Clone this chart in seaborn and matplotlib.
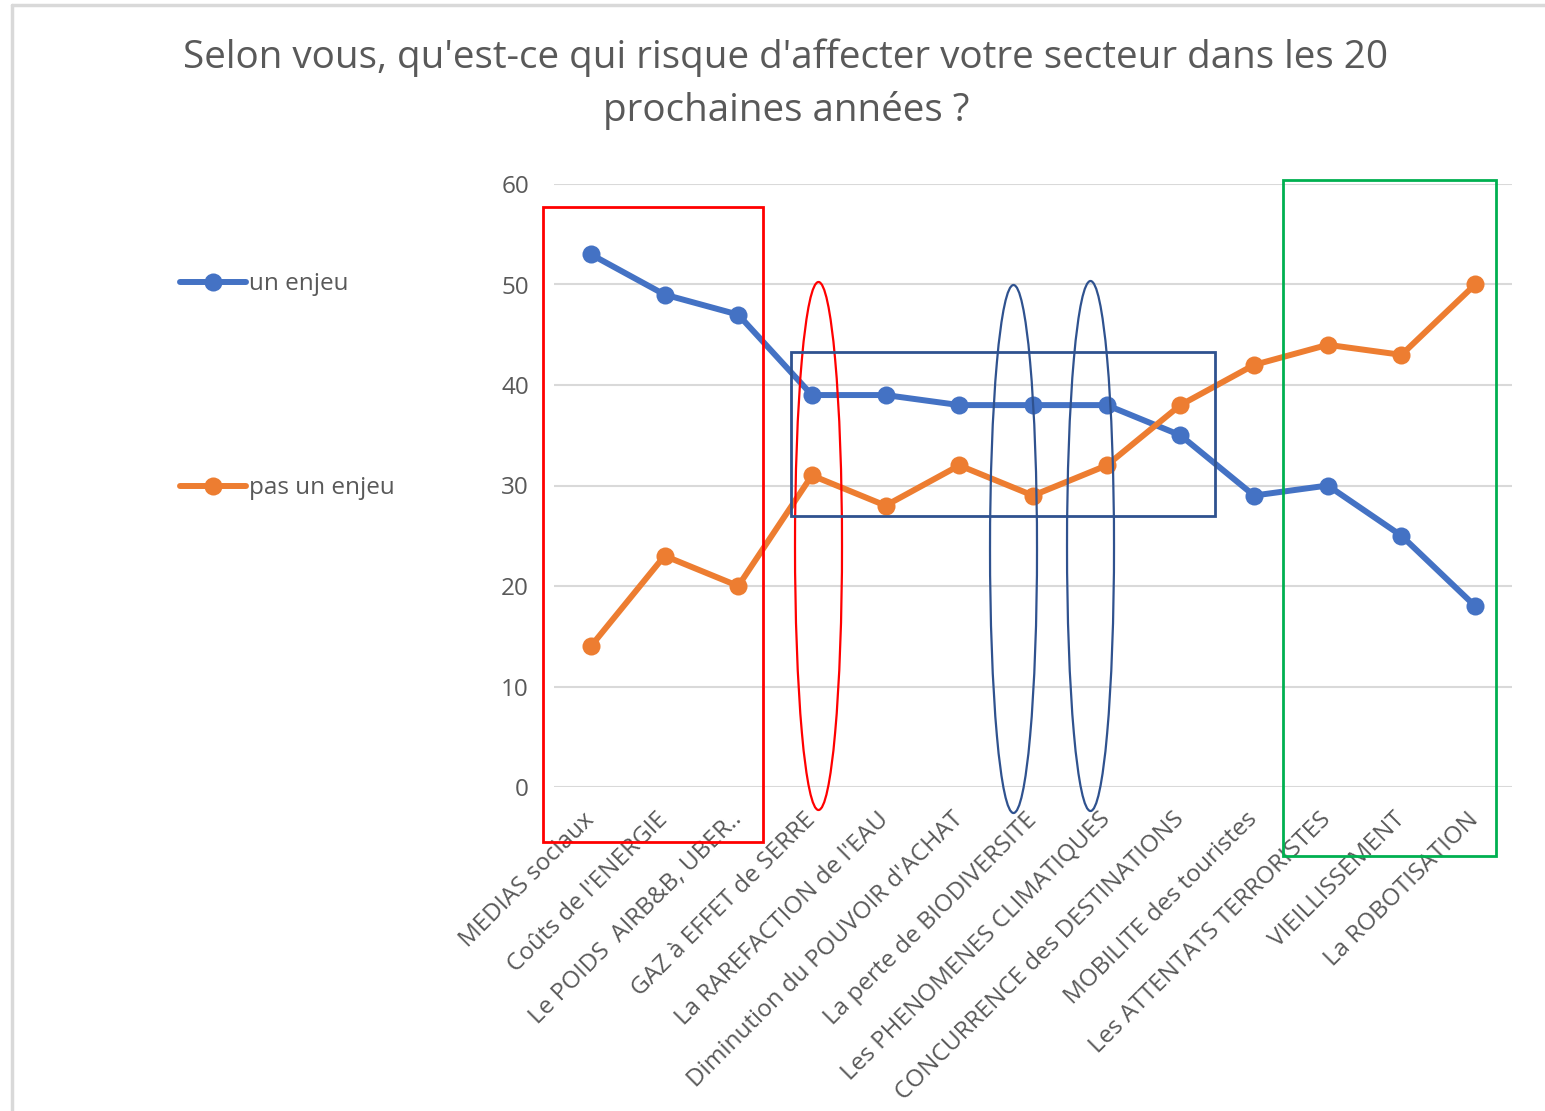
import pandas as pd
import matplotlib.pyplot as plt
import seaborn as sns
from matplotlib.patches import Rectangle, Ellipse
from matplotlib.lines import Line2D

# data
categories = [
    "MEDIAS sociaux", "Coûts de l'ENERGIE", "Le POIDS  AIRB&B, UBER..",
    "GAZ à EFFET de SERRE", "La RAREFACTION de l'EAU",
    "Diminution du POUVOIR d'ACHAT", "La perte de BIODIVERSITE",
    "Les PHENOMENES CLIMATIQUES", "CONCURRENCE des DESTINATIONS",
    "MOBILITE des touristes", "Les ATTENTATS TERRORISTES",
    "VIEILLISSEMENT", "La ROBOTISATION",
]
un_enjeu = [53, 49, 47, 39, 39, 38, 38, 38, 35, 29, 30, 25, 18]
pas_un_enjeu = [14, 23, 20, 31, 28, 32, 29, 32, 38, 42, 44, 43, 50]
yticks = [0, 10, 20, 30, 40, 50, 60]

blue = "#4472C4"
orange = "#ED7D31"
grey_text = "#595959"

sns.set_style("white")
plt.rcParams["font.family"] = ["Open Sans", "DejaVu Sans"]

df = pd.DataFrame({"cat": categories, "un enjeu": un_enjeu, "pas un enjeu": pas_un_enjeu})

fig = plt.figure(figsize=(15.45, 11.11), dpi=100)
ax = fig.add_axes([554 / 1545, 1 - 787 / 1111, (1512 - 554) / 1545, (787 - 184) / 1111])

for col, color in [("un enjeu", blue), ("pas un enjeu", orange)]:
    sns.lineplot(data=df, x="cat", y=col, ax=ax, color=color, marker="o",
                 markersize=13, linewidth=4.3, markeredgewidth=0, label=col,
                 sort=False, solid_capstyle="round")

ax.set_xlim(-0.5, len(categories) - 0.5)
ax.set_ylim(0, 60)
ax.set_yticks(yticks)
ax.set_xlabel("")
ax.set_ylabel("")
ax.yaxis.grid(True, color="#D9D9D9", linewidth=1.5)
ax.set_axisbelow(True)
for s in ax.spines.values():
    s.set_visible(False)
ax.tick_params(axis="y", length=0, pad=18, labelsize=17.5, labelcolor=grey_text)
ax.tick_params(axis="x", length=0, pad=21, labelsize=17.5, labelcolor=grey_text)
plt.setp(ax.get_xticklabels(), rotation=45, ha="right", va="center", rotation_mode="anchor")

# annotation shapes
def px_x(p):
    return (p - 554) / 73.69 - 0.5

def px_y(p):
    return (787 - p) / 10.05

def rect(x0, y0, x1, y1, color):
    ax.add_patch(Rectangle((px_x(x0), px_y(y1)), px_x(x1) - px_x(x0), px_y(y0) - px_y(y1),
                           fill=False, edgecolor=color, linewidth=2, clip_on=False, zorder=5))

def ell(x0, y0, x1, y1, color):
    ax.add_patch(Ellipse(((px_x(x0) + px_x(x1)) / 2, (px_y(y0) + px_y(y1)) / 2),
                         px_x(x1) - px_x(x0), px_y(y0) - px_y(y1),
                         fill=False, edgecolor=color, linewidth=1.6, clip_on=False, zorder=5))

rect(543, 207, 763, 842, "#FF0000")
ell(795, 282, 842, 810, "#FF0000")
rect(791, 352, 1215, 516, "#2F528F")
ell(990, 285, 1037, 813, "#2F528F")
ell(1067, 281, 1114, 811, "#2F528F")
rect(1283, 180, 1496, 856, "#00B050")

# legend on the left
ax.legend(loc="upper left", bbox_to_anchor=(168 / 1545, 1 - 260 / 1111),
          bbox_transform=fig.transFigure, frameon=False, fontsize=17.5,
          handlelength=2.7, handletextpad=0.15, labelspacing=7.4,
          labelcolor=grey_text, borderpad=0)

fig.text(786 / 1545, 1 - 58 / 1111, "Selon vous, qu'est-ce qui risque d'affecter votre secteur dans les 20",
         ha="center", va="center", fontsize=27.8, color=grey_text)
fig.text(786 / 1545, 1 - 110 / 1111, "prochaines années ?",
         ha="center", va="center", fontsize=27.8, color=grey_text)

# chart area border
fig.add_artist(Line2D([12 / 1545, 1], [1 - 5 / 1111] * 2, color="#D9D9D9", linewidth=2.5,
                      transform=fig.transFigure))
fig.add_artist(Line2D([12 / 1545] * 2, [0, 1 - 5 / 1111], color="#D9D9D9", linewidth=2.5,
                      transform=fig.transFigure))

fig.savefig("out.png", dpi=100)
